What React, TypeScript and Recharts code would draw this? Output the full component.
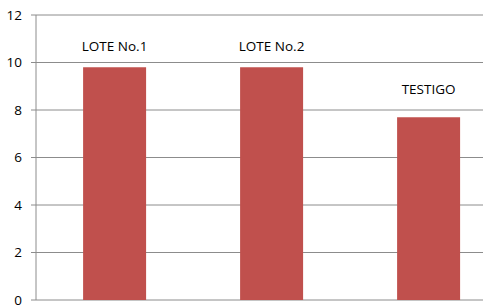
import { Bar, BarChart, CartesianGrid, LabelList, XAxis, YAxis } from "recharts";

const lotes = ["LOTE No.1", "LOTE No.2", "TESTIGO"];
const valores = [9.8, 9.8, 7.7];
const yTicks = [0, 2, 4, 6, 8, 10, 12];

const data = lotes.map((name, i) => ({ name, valor: valores[i] }));

const font = "'Open Sans', 'Noto Sans', sans-serif";

// single-line label centred over each bar; the last one sits a bit higher
function BarName(props: any) {
  const { x, y, width, value, index } = props;
  const lift = index === 2 ? 23 : 16;
  return (
    <text
      x={Number(x) + Number(width) / 2}
      y={Number(y) - lift}
      textAnchor="middle"
      fill="#000"
      fontSize={13.5}
      fontFamily={font}
    >
      {value}
    </text>
  );
}

export default function App() {
  return (
    <div
      style={{
        position: "fixed",
        left: 0,
        top: 0,
        width: 483,
        height: 308,
        overflow: "hidden",
        background: "#fff",
        fontFamily: font,
      }}
    >
      <BarChart
        width={520}
        height={308}
        data={data}
        margin={{ top: 15, right: 13, bottom: 8, left: 0 }}
        barCategoryGap="30%"
      >
        <CartesianGrid vertical={false} stroke="#8c8c8c" strokeWidth={1} />
        <XAxis
          dataKey="name"
          tick={false}
          height={0}
          axisLine={{ stroke: "#bdbdbd", strokeWidth: 2 }}
          tickLine={false}
        />
        <YAxis
          domain={[0, 12]}
          ticks={yTicks}
          width={36}
          tickSize={5}
          tickMargin={9}
          axisLine={{ stroke: "#8c8c8c" }}
          tickLine={{ stroke: "#8c8c8c" }}
          tick={{ fill: "#000", fontSize: 13.5, fontFamily: font }}
          interval={0}
        />
        <Bar dataKey="valor" fill="#c0504d" isAnimationActive={false}>
          <LabelList dataKey="name" content={BarName} />
        </Bar>
      </BarChart>
    </div>
  );
}
